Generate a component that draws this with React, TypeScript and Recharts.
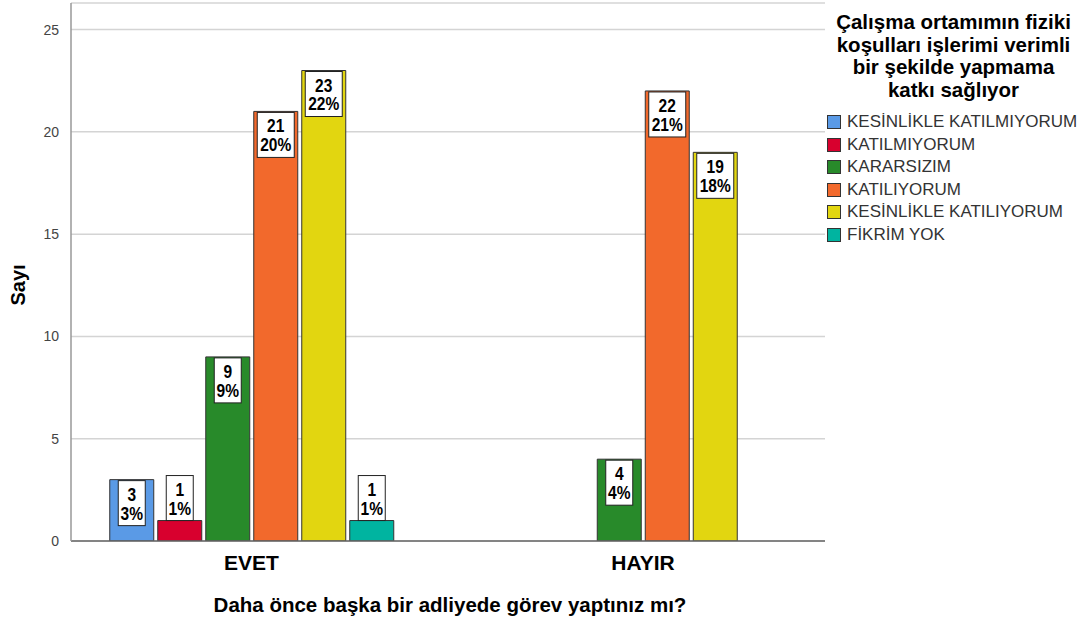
import React from 'react';
import { BarChart, Bar, XAxis, YAxis, CartesianGrid, LabelList } from 'recharts';

const categories = ['EVET', 'HAYIR'];
const seriesNames = [
  'KESİNLİKLE KATILMIYORUM',
  'KATILMIYORUM',
  'KARARSIZIM',
  'KATILIYORUM',
  'KESİNLİKLE KATILIYORUM',
  'FİKRİM YOK',
];
const colors = ['#5A9AE6', '#D8002E', '#288A2A', '#F2692C', '#E2D610', '#00B4A0'];

const kesinlikleKatilmiyorum = [3, null];
const katilmiyorum = [1, null];
const kararsizim = [9, 4];
const katiliyorum = [21, 22];
const kesinlikleKatiliyorum = [23, 19];
const fikrimYok = [1, null];

const pctKesinlikleKatilmiyorum = ['3%', null];
const pctKatilmiyorum = ['1%', null];
const pctKararsizim = ['9%', '4%'];
const pctKatiliyorum = ['20%', '21%'];
const pctKesinlikleKatiliyorum = ['22%', '18%'];
const pctFikrimYok = ['1%', null];

const yTicks = [0, 5, 10, 15, 20, 25];
const legendTitle = ['Çalışma ortamımın fiziki', 'koşulları işlerimi verimli', 'bir şekilde yapmama', 'katkı sağlıyor'];
const xTitle = 'Daha önce başka bir adliyede görev yaptınız mı?';
const yTitle = 'Sayı';

const seriesValues = [kesinlikleKatilmiyorum, katilmiyorum, kararsizim, katiliyorum, kesinlikleKatiliyorum, fikrimYok];
const seriesPct = [pctKesinlikleKatilmiyorum, pctKatilmiyorum, pctKararsizim, pctKatiliyorum, pctKesinlikleKatiliyorum, pctFikrimYok];

const data = categories.map((c, i) => {
  const row: any = { cat: c };
  seriesValues.forEach((s, k) => {
    row['s' + k] = s[i];
  });
  return row;
});

const FONT = "'Liberation Sans', Arial, sans-serif";

const makeLabel = (k: number) => (props: any) => {
  const { x, y, width, height, value, index } = props;
  if (value == null) return null;
  const pct = seriesPct[k][index];
  const line1 = String(value);
  const line2 = pct ?? '';
  const len = Math.max(line1.length, line2.length);
  const bw = len * 10 + 7;
  const bh = 45;
  const cx = Number(x) + Number(width) / 2;
  const top = Number(y);
  const h = Number(height);
  const by = h >= bh + 4 ? top + 1 : top - bh;
  return (
    <g>
      <rect x={cx - bw / 2} y={by} width={bw} height={bh} fill="#fff" stroke="#222" strokeWidth={1} />
      <g transform={`translate(${cx} ${by}) scale(0.84 1)`}>
        <text x={0} y={20} textAnchor="middle" fontFamily={FONT} fontWeight="bold" fontSize={18.5} fill="#000">
          <tspan x={0} y={20}>{line1}</tspan>
          <tspan x={0} y={39}>{line2}</tspan>
        </text>
      </g>
    </g>
  );
};

const XTick = (props: any) => {
  const { x, payload } = props;
  return (
    <text x={x} y={570} textAnchor="middle" fontFamily={FONT} fontWeight="bold" fontSize={21} fill="#000">
      {payload.value}
    </text>
  );
};

const LegendBox = () => (
  <div style={{ position: 'absolute', left: 820, top: 0, width: 263, fontFamily: FONT }}>
    <div style={{ textAlign: 'center', fontWeight: 'bold', fontSize: 20.5, lineHeight: '22.7px', color: '#000', marginTop: 11, paddingLeft: 4 }}>
      {legendTitle.map((t, i) => (
        <div key={i} style={{ whiteSpace: 'nowrap' }}>{t}</div>
      ))}
    </div>
    <div style={{ marginTop: 9, paddingLeft: 7 }}>
      {seriesNames.map((n, i) => (
        <div key={i} style={{ display: 'flex', alignItems: 'center', height: 22.6 }}>
          <div style={{ width: 12, height: 12, background: colors[i], border: '1px solid #333', marginRight: 6, flexShrink: 0 }} />
          <span style={{ fontSize: 17, color: '#333', whiteSpace: 'nowrap' }}>{n}</span>
        </div>
      ))}
    </div>
  </div>
);

export default function App() {
  return (
    <div style={{ position: 'absolute', left: 0, top: 0, width: 1083, height: 623, background: '#fff' }}>
      <BarChart
        width={1083}
        height={623}
        data={data}
        margin={{ top: 3, right: 258, bottom: 52, left: 0 }}
        barSize={44}
        barGap={4}
      >
        <CartesianGrid horizontal vertical={false} stroke="#d4d4d4" strokeWidth={1.5} />
        <XAxis
          dataKey="cat"
          height={30}
          padding={{ left: -15.25, right: -13.75 }}
          tickLine={false}
          axisLine={{ stroke: '#666', strokeWidth: 1.5 }}
          tick={<XTick />}
          interval={0}
          label={() => (
            <text x={450} y={612} textAnchor="middle" fontFamily={FONT} fontWeight="bold" fontSize={20.5} fill="#000">
              {xTitle}
            </text>
          )}
        />
        <YAxis
          width={71}
          domain={[0, 26.3]}
          ticks={yTicks}
          allowDataOverflow
          tickLine={false}
          axisLine={{ stroke: '#999', strokeWidth: 1.5 }}
          tick={{ fontFamily: FONT, fontSize: 14, fill: '#444' }}
          tickMargin={6}
          label={() => (
            <text
              x={25}
              y={285}
              transform="rotate(-90 25 285)"
              textAnchor="middle"
              fontFamily={FONT}
              fontWeight="bold"
              fontSize={20}
              fill="#000"
            >
              {yTitle}
            </text>
          )}
        />
        {seriesNames.map((n, k) => (
          <Bar key={k} dataKey={'s' + k} name={n} fill={colors[k]} stroke="#333" strokeWidth={1} isAnimationActive={false}>
            <LabelList dataKey={'s' + k} content={makeLabel(k)} />
          </Bar>
        ))}
      </BarChart>
      <LegendBox />
    </div>
  );
}
